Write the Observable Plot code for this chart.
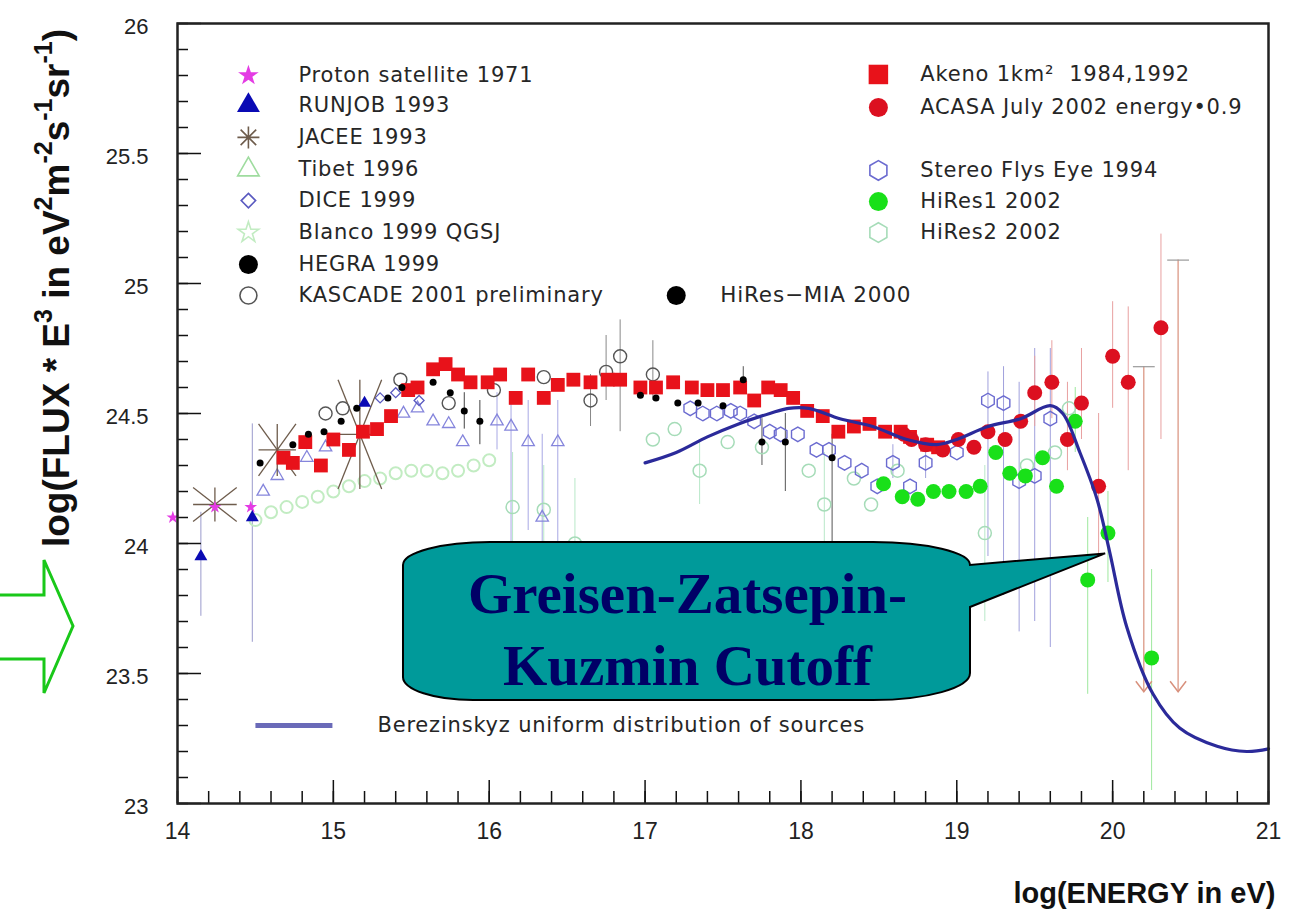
<!DOCTYPE html>
<html>
<head>
<meta charset="utf-8">
<script src="https://cdn.jsdelivr.net/npm/d3@7"></script>
<script src="https://cdn.jsdelivr.net/npm/@observablehq/plot@0.6"></script>
<style>
  html, body { margin: 0; padding: 0; background: #fff; }
  #chart { width: 1292px; height: 922px; }
</style>
</head>
<body>
<div id="chart"></div>
<script>
// ---------- measurements: [log10 E (eV), log10 (flux * E^3)] ----------
const proton  = [[13.97, 24.10], [14.24, 24.14], [14.47, 24.14]];
const runjob  = [[14.15, 23.95], [14.48, 24.10], [15.20, 24.54]];
const runjobErr = [[14.15, 23.72, 24.12], [14.48, 23.62, 24.46]];
// JACEE: [x, y, dx, dy] – the arms of each marker are its error cross
const jacee   = [[14.24, 24.15, 0.14, 0.065], [14.64, 24.36, 0.12, 0.10], [15.17, 24.42, 0.14, 0.21]];
const tibet   = [[14.55, 24.20], [14.64, 24.26], [14.83, 24.33], [14.95, 24.37], [15.45, 24.50], [15.54, 24.52],
                 [15.64, 24.47], [15.74, 24.46], [15.83, 24.39], [16.05, 24.47], [16.14, 24.45], [16.25, 24.39],
                 [16.34, 24.10], [16.44, 24.39]];
const tibetErr = [[16.05, 24.36, 24.58], [16.14, 23.92, 24.55], [16.25, 24.05, 24.55], [16.34, 23.80, 24.42], [16.44, 23.95, 24.55]];
const dice    = [[15.30, 24.56], [15.40, 24.58], [15.55, 24.55]];
const blanco  = [[14.50, 24.09], [14.60, 24.12], [14.70, 24.14], [14.80, 24.16], [14.90, 24.18], [15.00, 24.20],
                 [15.10, 24.22], [15.20, 24.24], [15.30, 24.25], [15.40, 24.27], [15.50, 24.28], [15.60, 24.28],
                 [15.70, 24.27], [15.80, 24.28], [15.90, 24.30], [16.00, 24.32]];
const hegra   = [[14.53, 24.31], [14.74, 24.38], [14.84, 24.42], [14.94, 24.43], [15.05, 24.47], [15.15, 24.52],
                 [15.35, 24.56], [15.44, 24.60], [15.64, 24.62], [15.75, 24.58], [15.84, 24.51], [15.94, 24.47]];
const hegraErr = [[15.84, 24.44, 24.58], [15.94, 24.38, 24.55]];
const kascade = [[14.95, 24.50], [15.06, 24.52], [15.43, 24.63], [15.74, 24.54], [16.03, 24.59], [16.35, 24.64],
                 [16.65, 24.55], [16.75, 24.66], [16.84, 24.72], [17.05, 24.65]];
const kascadeErr = [[16.65, 24.45, 24.65], [16.75, 24.55, 24.80], [16.84, 24.43, 24.86], [17.05, 24.55, 24.78]];
const hiresMia = [[16.97, 24.57], [17.07, 24.56], [17.21, 24.54], [17.34, 24.54], [17.50, 24.53], [17.63, 24.63],
                  [17.75, 24.39], [17.90, 24.39], [18.20, 24.33]];
const hiresMiaErr = [[17.63, 24.58, 24.68], [17.75, 24.30, 24.48], [17.90, 24.20, 24.50], [18.20, 23.90, 24.42]];
const akeno   = [[14.68, 24.33], [14.74, 24.31], [14.82, 24.39], [14.92, 24.30], [15.00, 24.40], [15.10, 24.36],
                 [15.19, 24.43], [15.28, 24.44], [15.37, 24.49], [15.48, 24.59], [15.54, 24.60], [15.64, 24.67],
                 [15.72, 24.69], [15.80, 24.65], [15.88, 24.62], [15.99, 24.62], [16.07, 24.65], [16.17, 24.56],
                 [16.25, 24.65], [16.35, 24.56], [16.44, 24.61], [16.54, 24.63], [16.65, 24.62], [16.76, 24.63],
                 [16.84, 24.63], [16.97, 24.60], [17.07, 24.60], [17.18, 24.62], [17.30, 24.60], [17.40, 24.59],
                 [17.50, 24.59], [17.61, 24.60], [17.70, 24.55], [17.79, 24.60], [17.87, 24.59], [17.95, 24.56],
                 [18.04, 24.51], [18.14, 24.49], [18.24, 24.43], [18.34, 24.45], [18.44, 24.46], [18.54, 24.43],
                 [18.64, 24.43], [18.70, 24.41], [18.81, 24.38], [18.88, 24.37]];
const acasa   = [[18.66, 24.42], [18.71, 24.40], [18.80, 24.38], [18.91, 24.36], [19.01, 24.40], [19.11, 24.37],
                 [19.20, 24.43], [19.31, 24.40], [19.41, 24.47], [19.50, 24.58], [19.61, 24.62], [19.71, 24.40],
                 [19.80, 24.54], [19.91, 24.22], [20.00, 24.72], [20.10, 24.62], [20.31, 24.83]];
const acasaErr = [[19.50, 24.45, 24.72], [19.61, 24.48, 24.78], [19.71, 24.28, 24.62], [19.80, 24.40, 24.75],
                  [19.91, 23.95, 24.50], [20.00, 24.52, 24.93], [20.10, 24.28, 24.91], [20.31, 24.40, 25.19]];
// upper limits: [x, limit, arrow end]
const acasaLimits = [[20.20, 24.68, 23.43], [20.42, 25.09, 23.43]];
const stereo  = [[17.29, 24.52], [17.37, 24.50], [17.46, 24.50], [17.55, 24.51], [17.61, 24.50], [17.70, 24.47],
                 [17.80, 24.43], [17.87, 24.42], [17.98, 24.42], [18.10, 24.36], [18.18, 24.36], [18.28, 24.31],
                 [18.39, 24.28], [18.49, 24.22], [18.59, 24.31], [18.70, 24.22], [18.80, 24.31], [19.00, 24.35],
                 [19.20, 24.55], [19.30, 24.54], [19.40, 24.24], [19.50, 24.26], [19.60, 24.48]];
const stereoErr = [[18.59, 24.25, 24.38], [18.80, 24.25, 24.40], [19.20, 23.95, 24.66], [19.30, 23.80, 24.68],
                   [19.40, 23.66, 24.62], [19.50, 23.70, 24.75], [19.60, 23.60, 24.75]];
const hires1  = [[18.53, 24.23], [18.65, 24.18], [18.75, 24.17], [18.85, 24.20], [18.95, 24.20], [19.06, 24.20],
                 [19.15, 24.22], [19.25, 24.35], [19.34, 24.27], [19.44, 24.26], [19.55, 24.33], [19.64, 24.22],
                 [19.76, 24.47], [19.84, 23.86], [19.97, 24.04], [20.25, 23.56]];
const hires1Err = [[19.76, 24.35, 24.60], [19.84, 23.42, 24.10], [19.97, 23.85, 24.20], [20.25, 23.05, 23.90]];
const hires2  = [[16.15, 24.14], [16.35, 24.13], [16.55, 24.00], [17.05, 24.40], [17.19, 24.44], [17.35, 24.28],
                 [17.53, 24.39], [17.75, 24.37], [18.05, 24.28], [18.15, 24.15], [18.34, 24.25], [18.45, 24.15],
                 [18.62, 24.28], [19.18, 24.04], [19.45, 24.30], [19.63, 24.35], [19.72, 24.52]];
const hires2Err = [[16.15, 23.90, 24.35], [16.35, 23.90, 24.30], [16.55, 23.75, 24.25], [17.35, 24.15, 24.40],
                   [18.15, 23.95, 24.35], [19.18, 23.70, 24.30]];
// Berezinsky et al., uniform distribution of sources
const berezinsky = [[17.00, 24.31], [17.20, 24.35], [17.40, 24.41], [17.60, 24.46], [17.80, 24.50], [17.92, 24.52],
                    [18.05, 24.52], [18.25, 24.48], [18.46, 24.45], [18.68, 24.40], [18.87, 24.38], [19.00, 24.40],
                    [19.20, 24.45], [19.41, 24.48], [19.60, 24.53], [19.68, 24.50], [19.79, 24.35], [19.90, 24.17],
                    [19.98, 23.97], [20.09, 23.68], [20.26, 23.42], [20.43, 23.29], [20.67, 23.22], [20.86, 23.20],
                    [21.00, 23.21]];

// ---------- axes ----------
const xTickLabels = [14, 15, 16, 17, 18, 19, 20, 21];
const yTickLabels = [23, 23.5, 24, 24.5, 25, 25.5, 26];
const xMinorTicks = d3.range(14, 21.0001, 0.2).map(v => +v.toFixed(1));
const yMinorTicks = d3.range(23, 26.0001, 0.1).map(v => +v.toFixed(1));

// ---------- legend text ----------
const legendLeftLabels  = ["Proton satellite 1971", "RUNJOB 1993", "JACEE 1993", "Tibet 1996", "DICE 1999",
                           "Blanco 1999 QGSJ", "HEGRA 1999", "KASCADE 2001 preliminary"];
const legendRightLabels = ["Akeno 1km\u00B2  1984,1992", "ACASA July 2002 energy\u20220.9",
                           "Stereo Flys Eye 1994", "HiRes1 2002", "HiRes2 2002"];
const legendMiaLabel = "HiRes\u2212MIA 2000";
const legendLineLabel = "Berezinskyz uniform distribution of sources";
const calloutLines = ["Greisen-Zatsepin-", "Kuzmin Cutoff"];

// ---------- layout / styles ----------
const W = 1292, H = 922;
const M = {left: 177, right: 24, top: 23, bottom: 119};
const plotW = W - M.left - M.right, plotH = H - M.top - M.bottom;
const sans = "'Liberation Sans', Arial, Helvetica, sans-serif";
const legendFont = "'DejaVu Sans', 'Liberation Sans', sans-serif";
const legendLayout = {
  left:  {sym: 14.455, text: 14.776, rows: [25.80, 25.685, 25.562, 25.438, 25.319, 25.196, 25.073, 24.954]},
  right: {sym: 18.497, text: 18.766, rows: [25.804, 25.677, 25.435, 25.315, 25.196]},
  mia:   {sym: 17.20, text: 17.483, row: 24.954},
  line:  {x1: 14.50, x2: 14.994, text: 15.283, row: 23.30}
};
const capHalfWidth = 0.07;

// eight-armed asterisk
const asterisk8 = {
  draw(ctx, size) {
    const r = Math.sqrt(size / Math.PI), d = r * Math.SQRT1_2;
    ctx.moveTo(-r, 0); ctx.lineTo(r, 0);
    ctx.moveTo(0, -r); ctx.lineTo(0, r);
    ctx.moveTo(-d, -d); ctx.lineTo(d, d);
    ctx.moveTo(-d, d); ctx.lineTo(d, -d);
  }
};
// open arrowhead pointing down (tip at the anchor point)
const arrowDown = {
  draw(ctx, size) {
    const r = Math.sqrt(size / Math.PI);
    ctx.moveTo(-r, -r * 1.3); ctx.lineTo(0, 0); ctx.lineTo(r, -r * 1.3);
  }
};

const C = {
  proton: "#e43be4", runjob: "#0a0ab4", jacee: "#6e5c4c", tibet: "#8585dc", tibetKey: "#9fdc9f",
  dice: "#5a5ac0", blanco: "#c2ecc2", hegra: "#000", kascade: "#555", mia: "#000",
  akeno: "#e8121a", acasa: "#dc1020", stereo: "#6b6bd0", hires1: "#19e019", hires2: "#a6dcb8",
  berez: "#2b2a9a", berezKey: "#6a6ab8", limit: "#d8907c", text: "#262626"
};

const X = d => d[0], Y = d => d[1];
const err = (data, stroke, w = 1) => Plot.ruleX(data, {x: d => d[0], y1: d => d[1], y2: d => d[2], stroke, strokeWidth: w});

// JACEE error crosses as individual arms
const jaceeArms = jacee.flatMap(([x, y, dx, dy]) => [
  {x1: x - dx, y1: y, x2: x + dx, y2: y},
  {x1: x, y1: y - dy, x2: x, y2: y + dy},
  {x1: x - dx, y1: y + dy, x2: x + dx, y2: y - dy},
  {x1: x - dx, y1: y - dy, x2: x + dx, y2: y + dy}
]);

const legendSymbols = [
  {symbol: "star", fill: C.proton, stroke: "none", r: 6.5},
  {symbol: "triangle", fill: C.runjob, stroke: "none", r: 8.5},
  {symbol: asterisk8, fill: "none", stroke: C.jacee, r: 11},
  {symbol: "triangle", fill: "none", stroke: C.tibetKey, r: 8},
  {symbol: "diamond2", fill: "none", stroke: C.dice, r: 6.5},
  {symbol: "star", fill: "none", stroke: C.blanco, r: 6.5},
  {symbol: "circle", fill: "#000", stroke: "none", r: 9.5},
  {symbol: "circle", fill: "none", stroke: C.kascade, r: 8.5}
];
const legendSymbolsRight = [
  {symbol: "square", fill: C.akeno, stroke: "none", r: 11},
  {symbol: "circle", fill: C.acasa, stroke: "none", r: 9.5},
  {symbol: "hexagon", fill: "none", stroke: C.stereo, r: 8.5},
  {symbol: "circle", fill: C.hires1, stroke: "none", r: 9.5},
  {symbol: "hexagon", fill: "none", stroke: C.hires2, r: 8.5}
];

const legendMarks = [
  ...legendLeftLabels.map((label, i) => Plot.dot([label], {
    x: () => legendLayout.left.sym, y: () => legendLayout.left.rows[i],
    ...legendSymbols[i], strokeWidth: 1.6
  })),
  ...legendRightLabels.map((label, i) => Plot.dot([label], {
    x: () => legendLayout.right.sym, y: () => legendLayout.right.rows[i],
    ...legendSymbolsRight[i], strokeWidth: 1.6
  })),
  Plot.text(legendLeftLabels, {
    x: () => legendLayout.left.text, y: (d, i) => legendLayout.left.rows[i], text: d => d,
    textAnchor: "start", fontFamily: legendFont, fontSize: 21, fill: C.text
  }),
  Plot.text(legendRightLabels, {
    x: () => legendLayout.right.text, y: (d, i) => legendLayout.right.rows[i], text: d => d,
    textAnchor: "start", fontFamily: legendFont, fontSize: 21, fill: C.text
  }),
  Plot.dot([legendMiaLabel], {x: () => legendLayout.mia.sym, y: () => legendLayout.mia.row, r: 9.5, fill: "#000"}),
  Plot.text([legendMiaLabel], {
    x: () => legendLayout.mia.text, y: () => legendLayout.mia.row, text: d => d,
    textAnchor: "start", fontFamily: legendFont, fontSize: 21.5, fill: C.text
  }),
  Plot.link([legendLineLabel], {
    x1: () => legendLayout.line.x1, x2: () => legendLayout.line.x2,
    y1: () => legendLayout.line.row, y2: () => legendLayout.line.row,
    stroke: C.berezKey, strokeWidth: 5
  }),
  Plot.text([legendLineLabel], {
    x: () => legendLayout.line.text, y: () => legendLayout.line.row, text: d => d,
    textAnchor: "start", fontFamily: legendFont, fontSize: 21, fill: C.text
  })
];

const chart = Plot.plot({
  width: W, height: H,
  marginLeft: M.left, marginRight: M.right, marginTop: M.top, marginBottom: M.bottom,
  x: {type: "linear", domain: [14, 21], axis: null},
  y: {type: "linear", domain: [23, 26], axis: null},
  style: {background: "#fff", fontFamily: sans, overflow: "visible"},
  marks: [
    // error bars
    err(runjobErr, "#9a9acc"),
    err(tibetErr, "#a8a8e4"),
    err(hegraErr, "#444"),
    err(kascadeErr, "#888"),
    err(hiresMiaErr, "#555"),
    err(stereoErr, "#a0a0dc"),
    err(hires2Err, "#b8e8c8"),
    err(hires1Err, "#9ee89e"),
    err(acasaErr, "#e8a0a0"),
    // upper limits
    Plot.ruleX(acasaLimits, {x: d => d[0], y1: d => d[1], y2: d => d[2], stroke: C.limit, strokeWidth: 1.2}),
    Plot.link(acasaLimits, {x1: d => d[0] - capHalfWidth, x2: d => d[0] + capHalfWidth, y1: d => d[1], y2: d => d[1],
      stroke: "#999", strokeWidth: 1.2}),
    Plot.dot(acasaLimits, {x: d => d[0], y: d => d[2], symbol: arrowDown, r: 8, stroke: C.limit, fill: "none", strokeWidth: 1.5}),

    // faint and open markers
    Plot.dot(blanco, {x: X, y: Y, r: 6, stroke: C.blanco, fill: "none", strokeWidth: 2}),
    Plot.dot(hires2, {x: X, y: Y, r: 6.5, stroke: C.hires2, fill: "none", strokeWidth: 1.5}),
    Plot.dot(tibet, {x: X, y: Y, symbol: "triangle", r: 4.6, stroke: C.tibet, fill: "none", strokeWidth: 1.3}),
    Plot.dot(dice, {x: X, y: Y, symbol: "diamond2", r: 4.5, stroke: C.dice, fill: "none", strokeWidth: 1.3}),
    Plot.link(jaceeArms, {x1: "x1", y1: "y1", x2: "x2", y2: "y2", stroke: C.jacee, strokeWidth: 1.3}),
    Plot.dot(kascade, {x: X, y: Y, r: 6.5, stroke: C.kascade, fill: "none", strokeWidth: 1.4}),
    Plot.dot(stereo, {x: X, y: Y, symbol: "hexagon", r: 6.3, stroke: C.stereo, fill: "none", strokeWidth: 1.4}),

    // filled markers
    Plot.dot(proton, {x: X, y: Y, symbol: "star", r: 4, fill: C.proton}),
    Plot.dot(runjob, {x: X, y: Y, symbol: "triangle", r: 4.8, fill: C.runjob}),
    Plot.dot(akeno, {x: X, y: Y, symbol: "square", r: 7.8, fill: C.akeno}),
    Plot.dot(hegra, {x: X, y: Y, r: 3.5, fill: C.hegra}),
    Plot.dot(hiresMia, {x: X, y: Y, r: 3.5, fill: C.mia}),
    Plot.dot(hires1, {x: X, y: Y, r: 7.5, fill: C.hires1}),
    Plot.dot(acasa, {x: X, y: Y, r: 7.5, fill: C.acasa}),

    // model curve
    Plot.line(berezinsky, {x: X, y: Y, stroke: C.berez, strokeWidth: 3.2, curve: "catmull-rom"}),

    ...legendMarks,

    // ticks (drawn inward)
    Plot.ruleY(yMinorTicks, {y: d => d, insetRight: plotW - 11, stroke: "#111", strokeWidth: 1.5}),
    Plot.ruleY(yTickLabels, {y: d => d, insetRight: plotW - 24, stroke: "#111", strokeWidth: 1.5}),
    Plot.ruleX(xMinorTicks, {x: d => d, insetTop: plotH - 12, stroke: "#111", strokeWidth: 1.5}),
    Plot.ruleX(xTickLabels, {x: d => d, insetTop: plotH - 23, stroke: "#111", strokeWidth: 1.5}),
    Plot.frame({stroke: "#222", strokeWidth: 2.5}),

    // tick labels
    Plot.text(xTickLabels, {x: d => d, frameAnchor: "bottom", dy: 28, text: d => String(d),
      fontSize: 23, fill: "#222", lineAnchor: "middle"}),
    Plot.text(yTickLabels, {y: d => d, frameAnchor: "left", dx: -29, dy: 3, text: d => String(d),
      fontSize: 22, fill: "#222", textAnchor: "end"}),

    // axis title (x)
    Plot.text(["log(ENERGY in eV)"], {frameAnchor: "bottom-right", dx: 7, dy: 90, text: d => d,
      textAnchor: "end", lineAnchor: "middle", fontSize: 29, fontWeight: "bold", fill: "#111"})
  ]
});

document.getElementById("chart").appendChild(chart);

// ---------- overlays drawn with the chart's own scales ----------
const svg = d3.select(chart);
const sx = chart.scale("x"), sy = chart.scale("y");

// the legend lettering is slightly spaced out
svg.selectAll("g[font-family*='DejaVu']").attr("letter-spacing", "0.8px");

// y axis title with superscripts
const yTitle = svg.append("text")
  .attr("transform", "translate(69,288) rotate(-90)")
  .attr("text-anchor", "middle")
  .attr("font-family", sans).attr("font-weight", "bold").attr("font-size", 37).attr("fill", "#111");
const yParts = [["log(FLUX * E", false], ["3", true], [" in eV", false], ["2", true], ["m", false],
                ["-2", true], ["s", false], ["-1", true], ["sr", false], ["-1", true], [")", false]];
let raised = false;
for (const [t, sup] of yParts) {
  const ts = yTitle.append("tspan").text(t);
  if (sup) { ts.attr("font-size", 25); if (!raised) ts.attr("dy", -17); raised = true; }
  else if (raised) { ts.attr("dy", 17); raised = false; }
}

// hollow green arrow in the left margin
const arrowPts = [[0, 595], [44, 595], [44, 560], [73, 626], [44, 693], [44, 659], [0, 659]];
svg.append("polyline")
  .attr("points", arrowPts.map(p => p.join(",")).join(" "))
  .attr("fill", "none").attr("stroke", "#19c819").attr("stroke-width", 3).attr("stroke-linejoin", "miter");

// speech-bubble annotation pointing at the cutoff on the model curve
const box = {x0: 15.45, x1: 19.088, y0: 24.004, y1: 23.396, tip: [19.955, 23.96]};
const L = sx.apply(box.x0), R = sx.apply(box.x1), T = sy.apply(box.y0), B = sy.apply(box.y1);
const tx = sx.apply(box.tip[0]), ty = sy.apply(box.tip[1]);
const path = [
  `M${L + 87},${T}`, `H${R - 97}`, `A97,23 0 0 1 ${R},${T + 23}`,
  `L${tx},${ty}`, `L${R},${T + 65}`, `V${B - 27}`, `A97,27 0 0 1 ${R - 97},${B}`,
  `H${L + 70}`, `A70,23 0 0 1 ${L},${B - 23}`, `V${T + 23}`, `A87,23 0 0 1 ${L + 87},${T}`, "Z"
].join(" ");
svg.append("path").attr("d", path).attr("fill", "#009a9a").attr("stroke", "#000").attr("stroke-width", 2);
const bubbleText = svg.append("text")
  .attr("text-anchor", "middle").attr("font-family", "'Liberation Serif', 'Times New Roman', serif")
  .attr("font-weight", "bold").attr("font-size", 57).attr("fill", "#000066");
calloutLines.forEach((line, i) => {
  bubbleText.append("tspan").attr("x", (L + R) / 2 + 1).attr("y", T + 71 + i * 72).text(line);
});
</script>
</body>
</html>
